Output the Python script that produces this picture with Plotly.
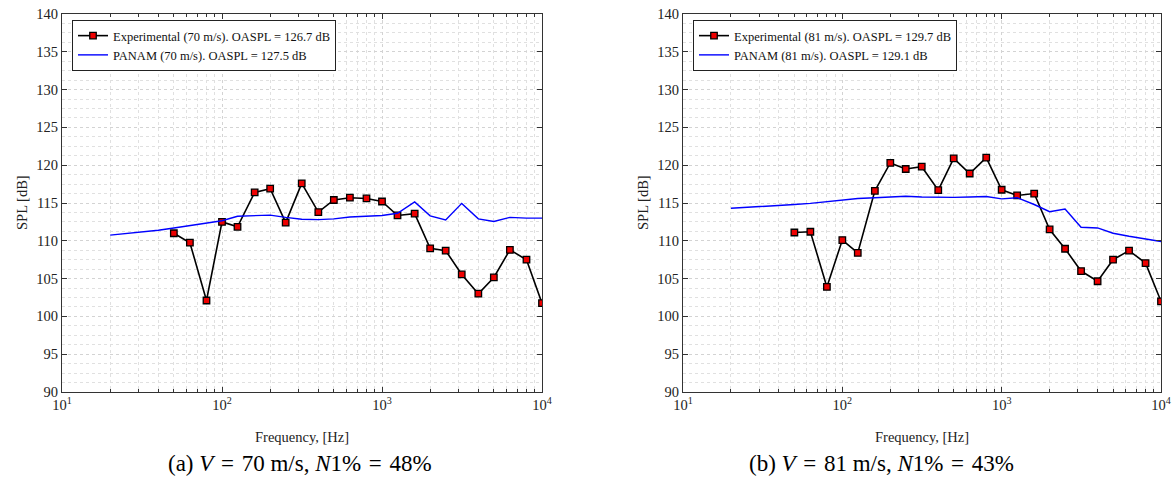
import plotly.graph_objects as go

# 1/3-octave band centre frequencies (Hz)
exp_freq = [50, 63, 80, 100, 125, 160, 200, 250, 315, 400, 500, 630, 800, 1000,
            1250, 1600, 2000, 2500, 3150, 4000, 5000, 6300, 8000, 10000]
panam_freq = [20, 25, 31.5, 40, 50, 63, 80, 100, 125, 160, 200, 250, 315, 400, 500,
              630, 800, 1000, 1250, 1600, 2000, 2500, 3150, 4000, 5000, 6300, 8000, 10000]

# (a) 70 m/s
exp_70 = [111.0, 109.75, 102.1, 112.5, 111.85, 116.4, 116.9, 112.4, 117.6, 113.8, 115.4,
          115.7, 115.6, 115.2, 113.35, 113.6, 109.0, 108.7, 105.55, 103.0, 105.15,
          108.8, 107.5, 101.75]
panam_70 = [110.75, 110.95, 111.15, 111.4, 111.7, 112.0, 112.35, 112.65, 113.25, 113.35,
            113.4, 113.1, 112.85, 112.8, 112.9, 113.15, 113.3, 113.35, 113.65, 115.15,
            113.3, 112.75, 114.95, 112.9, 112.55, 113.1, 113.0, 113.0]

# (b) 81 m/s
exp_81 = [111.1, 111.2, 103.9, 110.1, 108.4, 116.6, 120.3, 119.5, 119.8, 116.7, 120.9,
          118.9, 121.0, 116.75, 116.0, 116.25, 111.5, 108.95, 106.0, 104.65, 107.5,
          108.7, 107.05, 102.0]
panam_81 = [114.3, 114.4, 114.5, 114.65, 114.8, 114.95, 115.15, 115.35, 115.6, 115.7,
            115.8, 115.9, 115.8, 115.75, 115.75, 115.8, 115.85, 115.55, 115.7, 114.8,
            113.85, 114.2, 111.8, 111.7, 111.0, 110.6, 110.25, 109.9]

legend_70 = ["Experimental (70 m/s). OASPL = 126.7 dB", "PANAM (70 m/s). OASPL = 127.5 dB"]
legend_81 = ["Experimental (81 m/s). OASPL = 129.7 dB", "PANAM (81 m/s). OASPL = 129.1 dB"]
captions = ["(a) <i>V</i>&#8196;=&#8196;70 m/s, <i>N</i>1%&#8196;=&#8196;48%",
            "(b) <i>V</i>&#8196;=&#8196;81 m/s, <i>N</i>1%&#8196;=&#8196;43%"]

x_ticks = [10, 100, 1000, 10000]
x_ticktext = ["10<sup>1</sup>", "10<sup>2</sup>", "10<sup>3</sup>", "10<sup>4</sup>"]
x_minor = [m * d for d in (10, 100, 1000) for m in range(2, 10)]
y_ticks = list(range(90, 141, 5))

W, H = 1174, 485
FONT = "Liberation Serif"

def px(x):
    return x / W

def py(y):
    return 1 - y / H

fig = go.Figure()

def add_panel(idx, exp, panam, names, legend_name):
    xa = "x" if idx == 1 else "x2"
    ya = "y" if idx == 1 else "y2"
    fig.add_trace(go.Scatter(
        x=exp_freq, y=exp, mode="lines+markers", name=names[0],
        line=dict(color="black", width=1.6),
        marker=dict(symbol="square", size=6.5, color="#ee0000",
                    line=dict(color="black", width=1.3)),
        xaxis=xa, yaxis=ya, legend=legend_name))
    fig.add_trace(go.Scatter(
        x=panam_freq, y=panam, mode="lines", name=names[1],
        line=dict(color="#0000ff", width=1.4),
        xaxis=xa, yaxis=ya, legend=legend_name))

add_panel(1, exp_70, panam_70, legend_70, "legend")
add_panel(2, exp_81, panam_81, legend_81, "legend2")

TOP, BOT = 14, 392
y0, y1 = py(BOT), py(TOP)
doms = [(px(62), px(542)), (px(683), px(1161))]

def xaxis(dom, anchor):
    return dict(
        type="log", domain=list(dom), anchor=anchor, range=[1, 4], automargin=False,
        tickmode="array", tickvals=x_ticks, ticktext=x_ticktext, ticks="inside",
        ticklen=5, tickcolor="#333", showline=True, linecolor="#333", linewidth=1,
        mirror="ticks", showgrid=True, gridcolor="#d3d3d3", griddash="dot",
        gridwidth=1, zeroline=False,
        tickfont=dict(family=FONT, size=14.5, color="#222"),
        minor=dict(tickmode="array", tickvals=x_minor, ticks="inside", ticklen=3,
                   tickcolor="#333", showgrid=True, gridcolor="#e0e0e0",
                   griddash="dot", gridwidth=1),
    )

def yaxis(anchor):
    return dict(
        domain=[y0, y1], anchor=anchor, range=[90, 140], tickmode="array",
        tickvals=y_ticks, automargin=False,
        ticks="inside", ticklen=5, tickcolor="#333", showline=True,
        linecolor="#333", linewidth=1, mirror="ticks", showgrid=True,
        gridcolor="#d3d3d3", griddash="dot", gridwidth=1, zeroline=False,
        tickfont=dict(family=FONT, size=14.5, color="#222"),
        minor=dict(dtick=1.25, showgrid=True, gridcolor="#e0e0e0",
                   griddash="dot", gridwidth=1),
    )

legend_common = dict(
    bgcolor="white", bordercolor="#222", borderwidth=1,
    font=dict(family=FONT, size=12.5, color="#111"),
    xanchor="left", yanchor="top", tracegroupgap=0, itemwidth=30,
)

axis_left = [62, 683]
axis_center = [302, 922]
cap_x = [300, 881]
annotations = []
for i, cap in enumerate(captions):
    annotations.append(dict(text="Frequency, [Hz]", x=px(axis_center[i]), y=py(437),
                            xref="paper", yref="paper", xanchor="center",
                            yanchor="middle", showarrow=False,
                            font=dict(family=FONT, size=14.5, color="#222")))
    annotations.append(dict(text="SPL [dB]", x=px(axis_left[i] - 40), y=py(203),
                            xref="paper", yref="paper", xanchor="center",
                            yanchor="middle", showarrow=False, textangle=-90,
                            font=dict(family=FONT, size=14.5, color="#222")))
    annotations.append(dict(text=cap, x=px(cap_x[i]), y=py(463), xref="paper",
                            yref="paper", xanchor="center", yanchor="middle",
                            showarrow=False,
                            font=dict(family=FONT, size=23, color="#000")))

fig.update_layout(
    width=W, height=H, margin=dict(l=0, r=0, t=0, b=0, autoexpand=False),
    paper_bgcolor="white", plot_bgcolor="white",
    xaxis=xaxis(doms[0], "y"), yaxis=yaxis("x"),
    xaxis2=xaxis(doms[1], "y2"), yaxis2=yaxis("x2"),
    legend=dict(x=px(72), y=py(20), **legend_common),
    legend2=dict(x=px(693), y=py(20), **legend_common),
    annotations=annotations, showlegend=True,
)

fig.write_html("out.html", config={"displayModeBar": False},
               post_script="document.body.style.margin='0';"
                           "document.body.style.overflow='hidden';")
